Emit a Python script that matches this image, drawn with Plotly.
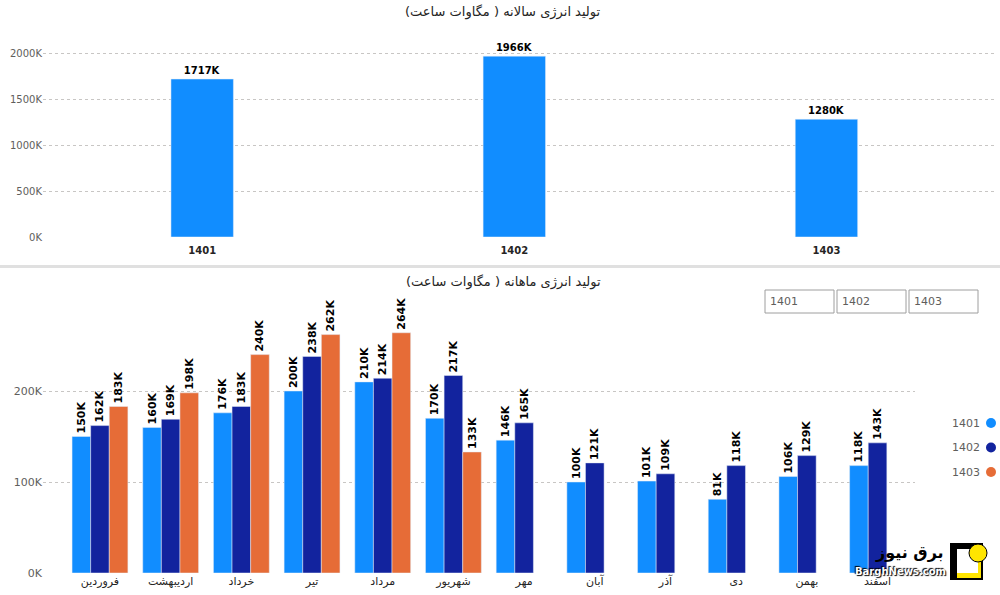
import plotly.graph_objects as go

# ---- data ----
years = ["1401", "1402", "1403"]
annual_k = [1717, 1966, 1280]
annual_ticks = [0, 500, 1000, 1500, 2000]

months = ["فروردین", "اردیبهشت", "خرداد", "تیر", "مرداد", "شهریور",
          "مهر", "آبان", "آذر", "دی", "بهمن", "اسفند"]
m1401 = [150, 160, 176, 200, 210, 170, 146, 100, 101, 81, 106, 118]
m1402 = [162, 169, 183, 238, 214, 217, 165, 121, 109, 118, 129, 143]
m1403 = [183, 198, 240, 262, 264, 133, None, None, None, None, None, None]
monthly_ticks = [0, 100, 200]

colors = {"1401": "#118DFF", "1402": "#12239E", "1403": "#E66C37"}
title_top = "تولید انرژی سالانه ( مگاوات ساعت)"
title_bottom = "تولید انرژی ماهانه ( مگاوات ساعت)"

W, H = 1000, 595
FIG_H = 602
def py(p):  # reference pixel y -> paper y
    return 1 - p / H
def px(p):
    return p / W

fig = go.Figure()

# top annual chart
fig.add_trace(go.Bar(
    x=years, y=annual_k, marker_color=colors["1401"], width=0.2,
    text=[f"{v}K" for v in annual_k], textposition="outside",
    textfont=dict(size=10, color="#000000", family="DejaVu Sans", weight="bold"),
    cliponaxis=False, constraintext="none", showlegend=False,
    xaxis="x", yaxis="y"))

# bottom monthly chart
for name, vals in [("1401", m1401), ("1402", m1402), ("1403", m1403)]:
    fig.add_trace(go.Bar(
        x=months, y=vals, name=name, marker_color=colors[name],
        text=[f"{v}K" if v is not None else "" for v in vals],
        textposition="outside", textangle=-90,
        textfont=dict(size=11, color="#000000", family="DejaVu Sans", weight="bold"),
        cliponaxis=False, constraintext="none", showlegend=False,
        xaxis="x2", yaxis="y2"))

grid = dict(showgrid=True, gridcolor="#C8C6C4", griddash="dot", gridwidth=1,
            zeroline=False, showline=False)

fig.update_layout(
    width=W, height=FIG_H, margin=dict(l=0, r=0, t=0, b=0),
    paper_bgcolor="white", plot_bgcolor="white",
    barmode="group", bargap=0.21, bargroupgap=0,
    xaxis=dict(domain=[px(43), px(995)], range=[-0.51, 2.54], type="category",
               showgrid=False, showline=False, ticks="", ticklabelstandoff=6,
               tickfont=dict(size=10, color="#252423", family="DejaVu Sans", weight="bold"),
               anchor="y"),
    yaxis=dict(domain=[py(237), py(39.2)], range=[0, 2150],
               tickmode="array", tickvals=annual_ticks,
               ticktext=[f"{v}K" for v in annual_ticks],
               tickfont=dict(size=10, color="#605E5C", family="DejaVu Sans"),
               anchor="x", **grid),
    xaxis2=dict(domain=[px(43), px(915)], range=[-0.806, 11.53], type="category",
                showgrid=False, showline=False, ticks="",
                tickfont=dict(size=11, color="#252423", family="DejaVu Sans"),
                anchor="y2"),
    yaxis2=dict(domain=[py(573), py(300)], range=[0, 300],
                tickmode="array", tickvals=monthly_ticks,
                ticktext=[f"{v}K" for v in monthly_ticks],
                tickfont=dict(size=11, color="#605E5C", family="DejaVu Sans"),
                anchor="x2", **grid),
    font=dict(family="DejaVu Sans"),
)

ann = []
ann.append(dict(text=title_top, x=px(503), y=py(12), xref="paper", yref="paper",
                yanchor="middle", showarrow=False,
                font=dict(size=13, color="#252423", family="DejaVu Sans")))
ann.append(dict(text=title_bottom, x=px(503), y=py(282), xref="paper", yref="paper",
                yanchor="middle", showarrow=False,
                font=dict(size=13, color="#252423", family="DejaVu Sans")))

shapes = []
# separator band
shapes.append(dict(type="rect", xref="paper", yref="paper", x0=0, x1=1,
                   y0=py(268), y1=py(265), fillcolor="#E0E0E0", line_width=0, layer="below"))

# slicer buttons
for i, name in enumerate(years):
    x0 = 765 + i * 72
    shapes.append(dict(type="rect", xref="paper", yref="paper",
                       x0=px(x0), x1=px(x0 + 69), y0=py(313), y1=py(290),
                       line=dict(color="#9E9E9E", width=1), fillcolor="white"))
    ann.append(dict(text=name, x=px(x0 + 34.5), y=py(301.5), xref="paper", yref="paper",
                    yanchor="middle", showarrow=False,
                    font=dict(size=11, color="#605E5C", family="DejaVu Sans")))

# legend (text left of circle)
for i, name in enumerate(years):
    yc = 423 + i * 24.5
    ann.append(dict(text=name, x=px(982), y=py(yc), xref="paper", yref="paper",
                    xanchor="right", yanchor="middle", showarrow=False,
                    font=dict(size=11, color="#605E5C", family="DejaVu Sans")))
    shapes.append(dict(type="circle", xref="paper", yref="paper",
                       x0=px(986), x1=px(996), y0=py(yc + 5), y1=py(yc - 5),
                       fillcolor=colors[name], line_width=0))

# watermark logo
shapes.append(dict(type="rect", xref="paper", yref="paper", x0=px(950), x1=px(983),
                   y0=py(580), y1=py(543), fillcolor="black", line_width=0))
shapes.append(dict(type="rect", xref="paper", yref="paper", x0=px(957), x1=px(978),
                   y0=py(573), y1=py(549), fillcolor="white", line_width=0))
shapes.append(dict(type="path", xref="paper", yref="paper",
                   path=f"M {px(957)},{py(578)} L {px(981)},{py(578)} L {px(981)},{py(560)} "
                        f"L {px(978)},{py(560)} L {px(978)},{py(573)} L {px(957)},{py(573)} Z",
                   fillcolor="#FFE500", line_width=0))
shapes.append(dict(type="circle", xref="paper", yref="paper", x0=px(969), x1=px(987),
                   y0=py(562), y1=py(544), fillcolor="#FFE500", line=dict(color="black", width=1)))
ann.append(dict(text="<b>برق نیوز</b>", x=px(946), y=py(552), xref="paper", yref="paper",
                xanchor="right", yanchor="middle", showarrow=False,
                font=dict(size=16, color="black", family="DejaVu Sans")))
ann.append(dict(text="<b>BarghNews.com</b>", x=px(948), y=py(571), xref="paper", yref="paper",
                xanchor="right", yanchor="middle", showarrow=False,
                font=dict(size=10, color="white", family="DejaVu Sans",
                          shadow="1px 1px 1px black, -1px -1px 1px black")))

fig.update_layout(annotations=ann, shapes=shapes)
fig.write_html(
    "out.html",
    config={"displayModeBar": False},
    post_script=(
        "document.documentElement.style.margin='0';"
        "document.body.style.margin='0';document.body.style.overflow='hidden';"
        "document.documentElement.style.overflow='hidden';"
        "var d=document.querySelector('.plotly-graph-div');"
        "d.style.position='fixed';d.style.top='0px';d.style.left='0px';"
    ),
)
